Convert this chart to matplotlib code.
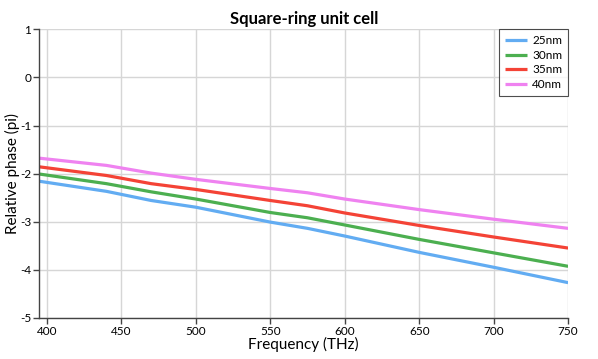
import matplotlib
matplotlib.use('Agg')
import matplotlib.pyplot as plt

plt.rcParams['font.family'] = ['Lato', 'DejaVu Sans']
plt.rcParams['axes.unicode_minus'] = False

# frequency points (THz) and relative phase (pi)
freq = [395, 440, 470, 500, 550, 575, 600, 650, 700, 750]
phase_25 = [-2.16, -2.37, -2.56, -2.70, -3.01, -3.14, -3.30, -3.64, -3.95, -4.27]
phase_30 = [-2.01, -2.21, -2.38, -2.53, -2.81, -2.92, -3.07, -3.37, -3.65, -3.93]
phase_35 = [-1.86, -2.04, -2.21, -2.33, -2.56, -2.67, -2.82, -3.08, -3.32, -3.55]
phase_40 = [-1.68, -1.83, -1.99, -2.12, -2.31, -2.40, -2.53, -2.75, -2.95, -3.14]

labels = ['25nm', '30nm', '35nm', '40nm']
colors = ['#62acf2', '#4caf50', '#f44336', '#ef82f0']
series = [phase_25, phase_30, phase_35, phase_40]

fig = plt.figure(figsize=(5.98, 3.59), dpi=100)
ax = fig.add_axes([0.066, 0.115, 0.884, 0.803])

for y, c, lab in zip(series, colors, labels):
    ax.plot(freq, y, color=c, lw=2.3, label=lab, solid_capstyle='butt')

ax.set_xlim(395, 750)
ax.set_ylim(-5, 1)
ax.set_xticks(range(400, 751, 50))
ax.set_yticks(range(-5, 2))
ax.grid(True, color='#d6d6d6', lw=1)
ax.set_axisbelow(True)

for s in ['top', 'right']:
    ax.spines[s].set_visible(False)
for s in ['left', 'bottom']:
    ax.spines[s].set_color('#444444')
    ax.spines[s].set_linewidth(1)
ax.tick_params(labelsize=8.5, length=4, width=1, color='#444444', pad=2)

ax.set_title('Square-ring unit cell', fontsize=12, fontweight='bold', pad=4)
ax.set_xlabel('Frequency (THz)', fontsize=11, labelpad=0)
ax.set_ylabel('Relative phase (pi)', fontsize=11, labelpad=0)

leg = ax.legend(loc='upper right', fontsize=8.5, frameon=True, fancybox=False,
                borderaxespad=0, handlelength=1.9, handletextpad=0.4,
                labelspacing=0.3, borderpad=0.5)
leg.get_frame().set_edgecolor('#222222')
leg.get_frame().set_linewidth(0.8)

fig.savefig('out.png', dpi=100)
